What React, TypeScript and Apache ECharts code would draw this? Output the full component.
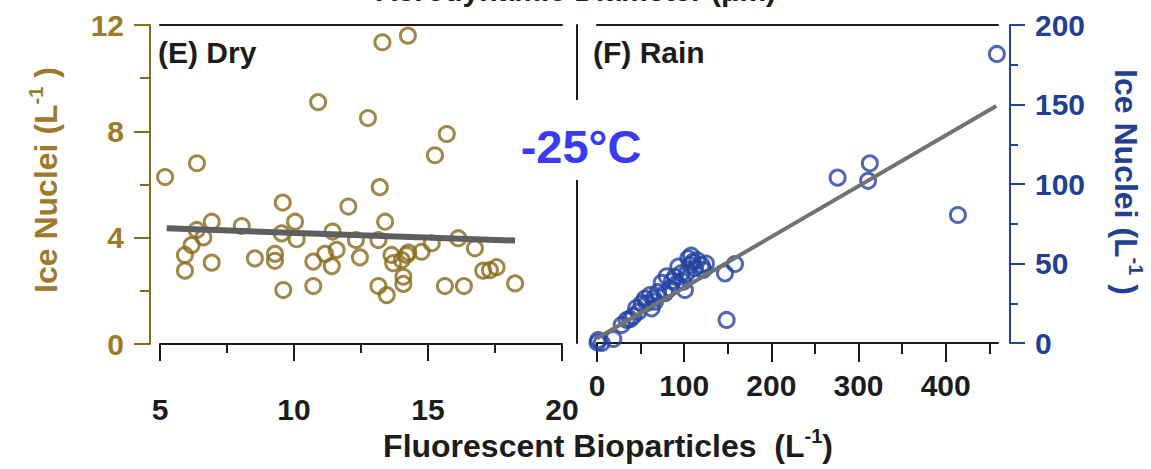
import React, { useEffect, useRef } from "react";
import * as echarts from "echarts";

// ---------- data ----------
const dryX = [5.19, 6.38, 10.9, 12.76, 13.3, 14.25, 15.26, 15.7, 13.2, 9.58, 12.03, 6.93, 8.05, 10.04, 13.4, 6.37, 6.62, 6.18, 5.93, 5.93, 6.93, 8.54, 9.29, 9.29, 9.54, 10.1, 9.6, 10.72, 10.72, 11.16, 11.41, 11.59, 11.44, 12.46, 12.31, 13.15, 13.15, 13.46, 13.64, 13.7, 14.02, 14.2, 14.08, 14.08, 14.27, 14.76, 15.14, 15.63, 16.13, 16.34, 16.75, 17.06, 17.31, 17.56, 18.25];
const dryY = [6.28, 6.8, 9.1, 8.5, 11.35, 11.6, 7.1, 7.9, 5.9, 5.32, 5.17, 4.6, 4.44, 4.6, 4.6, 4.29, 4.01, 3.72, 3.35, 2.76, 3.06, 3.22, 3.39, 3.13, 4.16, 3.94, 2.03, 3.1, 2.18, 3.39, 2.93, 3.54, 4.23, 3.26, 3.91, 3.91, 2.18, 1.84, 3.35, 3.04, 3.16, 3.35, 2.53, 2.26, 3.44, 3.47, 3.79, 2.18, 3.98, 2.18, 3.6, 2.76, 2.78, 2.89, 2.28];
const dryFitX = [5.25, 18.25];
const dryFitY = [4.35, 3.89];

const rainX = [0.5, 1.5, 5.4, 18.7, 28.3, 34, 38, 41.6, 45, 47.4, 51.3, 55, 57, 60.8, 62.7, 65, 66.5, 70, 74.2, 78, 80, 83.7, 86, 89.4, 93.2, 97, 100.9, 102.9, 104.7, 106.7, 108, 110, 112.4, 115, 120, 122, 125, 99, 91.4, 146.8, 158.3, 148.7, 276, 311, 313, 414, 458.7];
const rainY = [0.3, 1.9, 0, 2.5, 11.3, 14.5, 15, 17, 22, 19.7, 25, 28, 25, 30.2, 21.8, 28, 26, 32, 37.9, 31.3, 42, 34.4, 39, 41.7, 48, 44, 33.3, 43.8, 53.3, 49, 55, 51, 47, 52, 49, 46, 50, 38.6, 37.5, 43.8, 49.7, 14.5, 104, 102, 113, 80.5, 181.8];
const rainFitX = [0, 458];
const rainFitY = [3, 149];

const dryXTicks = [5, 10, 15, 20];
const dryYTicks = [0, 4, 8, 12];
const rainXTicks = [0, 100, 200, 300, 400];
const rainXMinor = [50, 150, 250, 350, 450];
const rainYTicks = [0, 50, 100, 150, 200];

const FONT = "'Liberation Sans', Arial, sans-serif";
const BROWN = "#8a6a1c";
const BROWN_LABEL = "#9c7a2a";
const BLUE = "#2442a0";
const BLUE_LABEL = "#233f92";
const BLACK = "#1c1c1c";
const FS = 30;

export default function App() {
  const ref = useRef<HTMLDivElement>(null);
  useEffect(() => {
    const chart = echarts.init(ref.current!, null, { renderer: "svg" });
    const blackLine = { color: BLACK, width: 2 };
    const frameAxis = (gridIndex: number, position: string, min: number, max: number, extra: any = {}) => ({
      gridIndex, type: "value", min, max, position,
      axisLine: { show: true, onZero: false, lineStyle: blackLine },
      axisTick: { show: false }, axisLabel: { show: false },
      splitLine: { show: false }, ...extra,
    });
    const labelStyle = (color: string, margin: number) => ({
      margin, fontSize: FS, fontWeight: "bold", color, fontFamily: FONT,
    });
    const titleRich = (color: string) => ({
      t: { font: `bold 32px ${FONT}`, fill: color, lineHeight: 40 },
      s: { font: `bold 20px ${FONT}`, fill: color, lineHeight: 20, verticalAlign: "top" },
    });
    const option: any = {
      animation: false,
      backgroundColor: "#ffffff",
      grid: [
        { left: 160, right: 589, top: 25, bottom: 125 },
        { left: 597, right: 153, top: 25, bottom: 126 },
      ],
      xAxis: [
        {
          gridIndex: 0, type: "value", min: 5, max: 20, interval: 5, position: "bottom",
          axisLine: { show: true, onZero: false, lineStyle: blackLine },
          axisTick: { show: true, length: 17, lineStyle: blackLine },
          minorTick: { show: true, splitNumber: 2, length: 9, lineStyle: blackLine },
          axisLabel: { ...labelStyle(BLACK, 50), customValues: dryXTicks },
          splitLine: { show: false }, minorSplitLine: { show: false },
        },
        frameAxis(0, "top", 5, 20),
        {
          gridIndex: 1, type: "value", min: 0, max: 460, position: "bottom",
          axisLine: { show: true, onZero: false, lineStyle: blackLine },
          axisTick: { show: true, length: 19, lineStyle: blackLine, customValues: rainXTicks },
          axisLabel: { ...labelStyle(BLACK, 27), customValues: rainXTicks },
          splitLine: { show: false },
        },
        {
          gridIndex: 1, type: "value", min: 0, max: 460, position: "bottom",
          axisLine: { show: false, onZero: false },
          axisTick: { show: true, length: 11, lineStyle: blackLine, customValues: rainXMinor },
          axisLabel: { show: false },
          splitLine: { show: false },
        },
        frameAxis(1, "top", 0, 460),
      ],
      yAxis: [
        {
          gridIndex: 0, type: "value", min: 0, max: 12, interval: 4, position: "left", offset: 10,
          axisLine: { show: true, onZero: false, lineStyle: { color: BROWN, width: 2 } },
          axisTick: { show: true, length: 16, lineStyle: { color: BROWN, width: 2 } },
          minorTick: { show: true, splitNumber: 2, length: 10, lineStyle: { color: BROWN, width: 2 } },
          axisLabel: { ...labelStyle(BROWN_LABEL, 26), customValues: dryYTicks },
          splitLine: { show: false }, minorSplitLine: { show: false },
        },
        {
          gridIndex: 1, type: "value", min: 0, max: 200, interval: 50, position: "right", offset: 12,
          axisLine: { show: true, onZero: false, lineStyle: { color: BLUE, width: 2 } },
          axisTick: { show: true, length: 15, lineStyle: { color: BLUE, width: 2 } },
          minorTick: { show: true, splitNumber: 2, length: 8, lineStyle: { color: BLUE, width: 2 } },
          axisLabel: { ...labelStyle(BLUE_LABEL, 25), customValues: rainYTicks },
          splitLine: { show: false }, minorSplitLine: { show: false },
        },
        frameAxis(1, "left", 0, 200, { offset: 20 }),
      ],
      series: [
        {
          type: "scatter", xAxisIndex: 0, yAxisIndex: 0,
          data: dryX.map((x, i) => [x, dryY[i]]),
          symbol: "circle", symbolSize: 15,
          itemStyle: { color: "rgba(0,0,0,0)", borderColor: BROWN, borderWidth: 3 },
          z: 2,
        },
        {
          type: "line", xAxisIndex: 0, yAxisIndex: 0,
          data: dryFitX.map((x, i) => [x, dryFitY[i]]),
          showSymbol: false, symbol: "none",
          lineStyle: { color: "#5e5e5e", width: 6 },
          z: 3,
        },
        {
          type: "scatter", xAxisIndex: 2, yAxisIndex: 1,
          data: rainX.map((x, i) => [x, rainY[i]]),
          symbol: "circle", symbolSize: 15,
          itemStyle: { color: "rgba(0,0,0,0)", borderColor: BLUE, borderWidth: 3 },
          z: 2,
        },
        {
          type: "line", xAxisIndex: 2, yAxisIndex: 1,
          data: rainFitX.map((x, i) => [x, rainFitY[i]]),
          showSymbol: false, symbol: "none",
          lineStyle: { color: "#727272", width: 4 },
          z: 3,
        },
      ],
      graphic: [
        {
          type: "text", x: 576, y: -10, z: 50,
          style: { text: "Aerodynamic Diameter (\u03bcm)", font: `bold 30px ${FONT}`, fill: BLACK, textAlign: "center", textVerticalAlign: "middle" },
        },
        {
          type: "text", x: 158, y: 52, z: 50,
          style: { text: "(E) Dry", font: `bold 30px ${FONT}`, fill: BLACK, textVerticalAlign: "middle" },
        },
        {
          type: "text", x: 593, y: 52, z: 50,
          style: { text: "(F) Rain", font: `bold 30px ${FONT}`, fill: BLACK, textVerticalAlign: "middle" },
        },
        {
          type: "rect", z: 60, shape: { x: 514, y: 100, width: 134, height: 80 },
          style: { fill: "#ffffff" },
        },
        {
          type: "text", x: 581, y: 146, z: 61,
          style: { text: "-25°C", font: `bold 47px ${FONT}`, fill: "#3a3af5", textAlign: "center", textVerticalAlign: "middle" },
        },
        {
          type: "text", x: 608, y: 446, z: 50,
          style: {
            text: "{t|Fluorescent Bioparticles  (L}{s|-1}{t|)}",
            textAlign: "center", textVerticalAlign: "middle",
            rich: titleRich(BLACK),
          },
        },
        {
          type: "text", x: 46, y: 180, rotation: Math.PI / 2, z: 50,
          style: {
            text: "{t|Ice Nuclei (L}{s|-1}{t| )}",
            textAlign: "center", textVerticalAlign: "middle",
            rich: titleRich(BROWN_LABEL),
          },
        },
        {
          type: "text", x: 1126, y: 182, rotation: -Math.PI / 2, z: 50,
          style: {
            text: "{t|Ice Nuclei (L}{s|-1}{t| )}",
            textAlign: "center", textVerticalAlign: "middle",
            rich: titleRich(BLUE_LABEL),
          },
        },
      ],
    };
    chart.setOption(option);
    return () => chart.dispose();
  }, []);
  return (
    <div
      ref={ref}
      style={{ position: "fixed", left: 0, top: 0, width: 1151, height: 469, background: "#fff" }}
    />
  );
}
